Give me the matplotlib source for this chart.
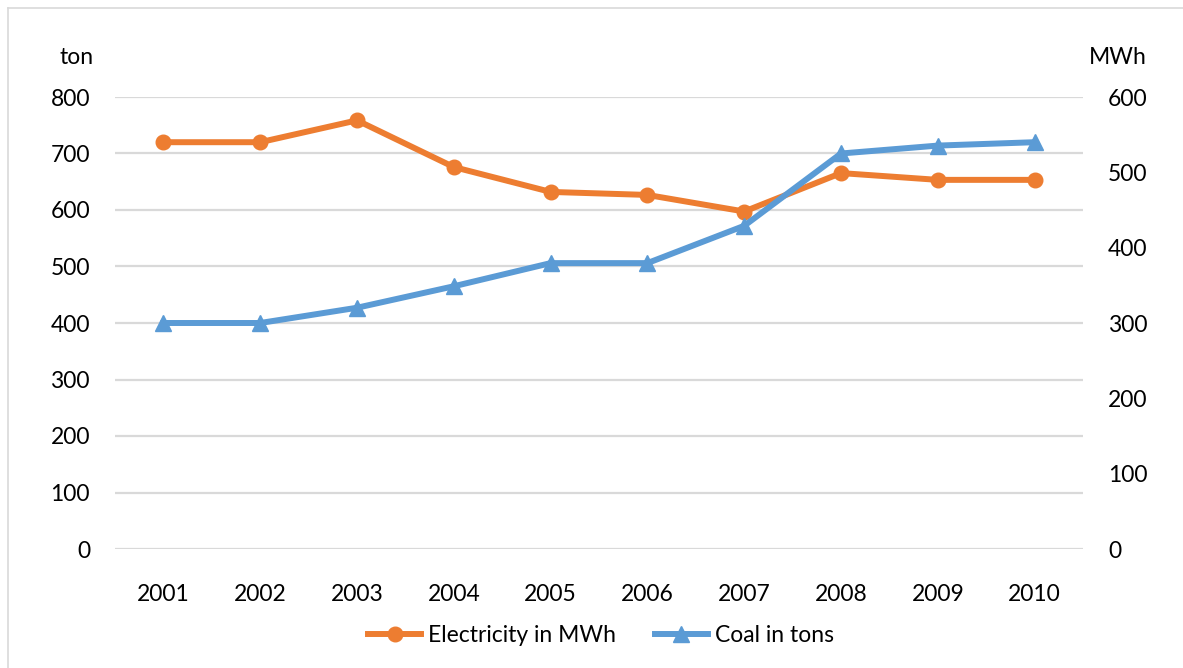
import matplotlib.pyplot as plt
from matplotlib.lines import Line2D

plt.rcParams['font.family'] = ['Lato', 'DejaVu Sans']

years = ['2001', '2002', '2003', '2004', '2005', '2006', '2007', '2008', '2009', '2010']
electricity_mwh = [540, 540, 569, 507, 474, 470, 448, 499, 490, 490]
coal_tons = [400, 400, 427, 465, 506, 506, 572, 700, 714, 720]

orange = '#ED7D31'
blue = '#5B9BD5'
grid_col = '#D9D9D9'
fs = 16.5

W, H = 1183, 668
fig = plt.figure(figsize=(W / 100, H / 100), dpi=100)

# left/bottom/width/height in pixels -> figure fraction
x0, x1, ytop, ybot = 115, 1083, 97, 549
rect = [x0 / W, 1 - ybot / H, (x1 - x0) / W, (ybot - ytop) / H]
ax = fig.add_axes(rect)          # left scale, ticks + grid
ax2 = ax.twinx()                 # right scale, electricity
ax3 = fig.add_axes(rect, sharex=ax, sharey=ax)   # coal on top, left scale
ax3.patch.set_visible(False)
ax3.axis('off')

xs = list(range(len(years)))
ax2.plot(xs, electricity_mwh, color=orange, lw=4.3, marker='o', ms=10.5, zorder=3)
ax3.plot(xs, coal_tons, color=blue, lw=4.3, marker='^', ms=11, zorder=3)

ax.set_xlim(-0.5, len(years) - 0.5)
ax.set_ylim(0, 800)
ax2.set_ylim(0, 600)
ax.set_yticks(range(0, 801, 100))
ax2.set_yticks(range(0, 601, 100))
ax.set_xticks(xs)
ax.set_xticklabels(years)

for a in (ax, ax2):
    for s in a.spines.values():
        s.set_visible(False)
    a.tick_params(length=0, labelsize=fs, colors='black')
ax.tick_params(axis='y', pad=18)
ax2.tick_params(axis='y', pad=18)
ax.tick_params(axis='x', pad=25)

ax.set_axisbelow(True)
ax.yaxis.grid(True, color=grid_col, lw=1.6)

fig.text(77 / W, 1 - 57 / H, 'ton', fontsize=fs, ha='center', va='center')
fig.text(1147 / W, 1 - 58 / H, 'MWh', fontsize=fs, ha='right', va='center')

handles = [
    Line2D([], [], color=orange, lw=4.3, marker='o', ms=10.5),
    Line2D([], [], color=blue, lw=4.3, marker='^', ms=11),
]
fig.legend(handles, ['Electricity in MWh', 'Coal in tons'], loc='center',
           bbox_to_anchor=(601 / W, 1 - 636 / H), ncol=2, frameon=False,
           fontsize=fs, handlelength=2.3, handletextpad=0.3, columnspacing=1.7)

# chart border (top and left edges are visible)
fig.add_artist(Line2D([8 / W, 1], [1 - 8 / H, 1 - 8 / H], color='#D9D9D9', lw=1.2))
fig.add_artist(Line2D([8 / W, 8 / W], [0, 1 - 8 / H], color='#D9D9D9', lw=1.2))

fig.savefig('out.png', dpi=100)
